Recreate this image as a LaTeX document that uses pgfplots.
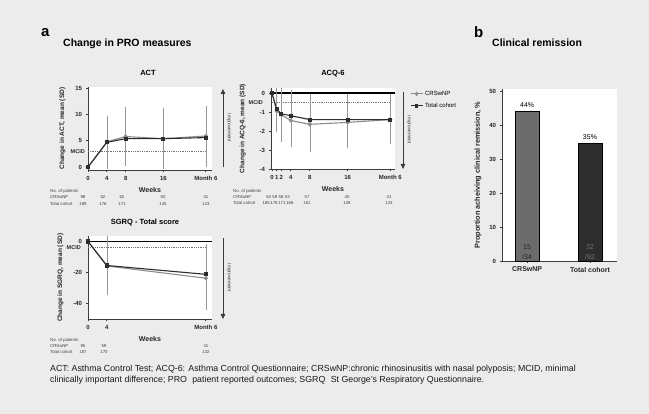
\documentclass[border=0pt]{standalone}
\usepackage{pgfplots}
\pgfplotsset{compat=1.18}
\usepackage{fontspec}
\setmainfont{Liberation Sans}
\setsansfont{Liberation Sans}
\usetikzlibrary{arrows.meta}
\definecolor{bg}{RGB}{236,236,236}
\definecolor{crs}{RGB}{140,140,140}
\definecolor{tot}{RGB}{45,45,45}
\definecolor{errc}{RGB}{150,150,150}
\definecolor{axc}{RGB}{60,60,60}
\definecolor{barA}{RGB}{108,108,108}
\definecolor{barB}{RGB}{45,45,45}
\newcommand{\fs}[1]{\fontsize{#1}{#1}\selectfont}
\pgfplotsset{
  gp/.style={
    scale only axis, anchor=south west, clip=false,
    axis lines*=left,
    axis line style={line width=0.9pt, axc},
    tick align=outside, major tick length=2.5pt,
    tick style={line width=0.8pt, axc},
    axis background/.style={fill=white},
    /pgf/number format/assume math mode=true,
    ticklabel style={font=\fs{6}\bfseries, text=black!85},
    xlabel style={font=\fs{7}\bfseries, text=black!85},
    ylabel style={font=\fs{6.5}\bfseries, text=black!85},
    ylabel shift=3pt,
  },
  crsline/.style={crs, line width=1.1pt, mark=*, mark size=1.5pt, mark options={fill=crs, draw=crs, solid},
    error bars/.cd, y dir=both, y explicit,
    error bar style={line width=0.5pt, errc},
    error mark options={line width=0.5pt, errc, mark size=2pt}},
  totline/.style={tot, line width=1.1pt, mark=square*, mark size=1.5pt, mark options={fill=tot, draw=tot, solid},
    error bars/.cd, y dir=both, y explicit,
    error bar style={line width=0.5pt, errc},
    error mark options={line width=0.5pt, errc, mark size=2pt}},
  mcid/.style={densely dotted, line width=0.8pt, black!55, forget plot},
  zline/.style={black, line width=1.3pt, forget plot},
}
\begin{document}
\begin{tikzpicture}[x=1pt,y=1pt]
\fill[bg] (0,0) rectangle (649,-414);
\useasboundingbox (0,0) rectangle (649,-414);

% headings
\node[anchor=base west, font=\fs{15}\bfseries, inner sep=0pt] at (41,-37) {a};
\node[anchor=base west, font=\fs{10.5}\bfseries, inner sep=0pt] at (63,-47) {Change in PRO measures};
\node[anchor=base west, font=\fs{15}\bfseries, inner sep=0pt] at (474,-38) {b};
\node[anchor=base west, font=\fs{10.5}\bfseries, inner sep=0pt] at (492,-47) {Clinical remission};
\node[anchor=base, font=\fs{7.5}\bfseries, inner sep=0pt] at (148,-76) {ACT};
\node[anchor=base, font=\fs{7.5}\bfseries, inner sep=0pt] at (333,-76) {ACQ-6};
\node[anchor=base, font=\fs{7.5}\bfseries, inner sep=0pt] at (145,-225) {SGRQ - Total score};

% ACT
\begin{axis}[gp, at={(88pt,-170pt)}, width=124pt, height=83pt,
  xmin=0, xmax=26.3, ymin=-0.55, ymax=15.2,
  xtick={0,4,8,16,25}, xticklabels={0,4,8,16,Month 6},
  ytick={0,5,10,15},
  xlabel={Weeks}, ylabel={Change in ACT, mean (SD)}]
\addplot[mcid] coordinates {(0,3) (25,3)};
\addplot[crsline] coordinates {(0,0) (4,4.8) += (0,4.6) -= (0,4.5) (8,5.8) += (0,5.2) -= (0,5.2) (16,5.4) += (0,5.5) -= (0,5.4) (25,5.9) += (0,5.4) -= (0,5.5)};
\addplot[totline] coordinates {(0,0) (4,4.7) += (0,4.7) -= (0,4.7) (8,5.4) += (0,5.3) -= (0,4.1) (16,5.4) += (0,5.3) -= (0,5.3) (25,5.6) += (0,5.3) -= (0,4.6)};
\node[anchor=east, font=\fs{5.5}\bfseries, inner sep=0pt, text=black!85] at (axis cs:0,3) [xshift=-3pt] {MCID};
\end{axis}

% ACQ-6
\begin{axis}[gp, at={(271pt,-169pt)}, width=124pt, height=81pt,
  xmin=-0.2, xmax=26.0, ymin=-4, ymax=0.26,
  xtick={0,1,2,4,8,16,25}, xticklabels={0,1,2,4,8,16,Month 6},
  ytick={0,-1,-2,-3,-4},
  xlabel={Weeks}, ylabel={Change in ACQ-6, mean (SD)}, ylabel shift=7pt,
  legend style={at={(rel axis cs:1.12,0.99)}, anchor=north west, draw=none, fill=none,
    font=\fs{6}, row sep=2pt, inner sep=0pt},
  legend cell align=left,
  legend image post style={xscale=0.7}]
\addplot[zline] coordinates {(-0.2,0) (26,0)};
\addplot[mcid] coordinates {(0,-0.5) (25,-0.5)};
\addplot[crsline] coordinates {(0,0) (1,-0.95) += (0,1.05) -= (0,1.0) (2,-1.15) += (0,1.25) -= (0,1.35) (4,-1.45) += (0,1.4) -= (0,1.3) (8,-1.65) += (0,1.5) -= (0,1.35) (16,-1.55) += (0,1.4) -= (0,1.25) (25,-1.4) += (0,1.25) -= (0,1.2)};
\addlegendentry{CRSwNP}
\addplot[totline] coordinates {(0,0) (1,-0.85) += (0,1.0) -= (0,1.05) (2,-1.1) += (0,1.25) -= (0,1.3) (4,-1.2) += (0,1.25) -= (0,1.3) (8,-1.4) += (0,1.25) -= (0,1.3) (16,-1.4) += (0,1.25) -= (0,1.3) (25,-1.4) += (0,1.25) -= (0,1.2)};
\addlegendentry{Total cohort}
\node[anchor=east, font=\fs{5.5}\bfseries, inner sep=0pt, text=black!85] at (axis cs:-0.2,-0.5) [xshift=-8pt] {MCID};
\end{axis}

% SGRQ
\begin{axis}[gp, at={(88pt,-319pt)}, width=124pt, height=82.5pt,
  xmin=0, xmax=26.3, ymin=-50, ymax=3.2,
  xtick={0,4,25}, xticklabels={0,4,Month 6},
  ytick={0,-20,-40},
  xlabel={Weeks}, ylabel={Change in SGRQ, mean (SD)}]
\addplot[zline] coordinates {(0,0) (26.3,0)};
\addplot[mcid] coordinates {(0,-4) (25,-4)};
\addplot[crsline] coordinates {(0,0) (4,-15.8) += (0,17.8) -= (0,17.7) (25,-23.7) += (0,19.5) -= (0,19.3)};
\addplot[totline] coordinates {(0,0) (4,-15.5) += (0,17.3) -= (0,17.8) (25,-21.2) += (0,18.0) -= (0,19.8)};
\node[anchor=east, font=\fs{5.5}\bfseries, inner sep=0pt, text=black!85] at (axis cs:0,-4) [xshift=-7pt] {MCID};
\end{axis}

% Panel b
\begin{axis}[gp, at={(502pt,-261pt)}, width=115pt, height=171.7pt,
  xmin=-0.4, xmax=1.43, ymin=0, ymax=50.5,
  xtick={0,1}, xticklabels={CRSwNP,Total cohort},
  ytick={0,10,20,30,40,50},
  xticklabel style={font=\fs{7}\bfseries},
  ylabel={Proportion acheiving clinical remission, \%},
  ylabel style={font=\fs{7.3}\bfseries}, ylabel shift=1pt]
\addplot[ybar, bar shift=0pt, bar width=24pt, fill=barA, draw=black, line width=0.6pt] coordinates {(0,44)};
\addplot[ybar, bar shift=0pt, bar width=24pt, fill=barB, draw=black, line width=0.6pt] coordinates {(1,34.7)};
\node[anchor=south, font=\fs{7}] at (axis cs:0,44) {44\%};
\node[anchor=south, font=\fs{7}] at (axis cs:1,34.7) {35\%};
\node[anchor=south, font=\fontsize{7}{10}\selectfont, align=center, text=black!85, inner sep=1pt] at (axis cs:0,0) {15\\/34};
\node[anchor=south, font=\fontsize{7}{10}\selectfont, align=center, text=black!55, inner sep=1pt] at (axis cs:1,0) {32\\/92};
\end{axis}

% improvement arrows
\draw[line width=0.8pt, axc, -{Triangle[length=5pt,width=4.5pt]}] (223,-167) -- (223,-89);
\node[rotate=-90, font=\fs{4.8}, text=black!80] at (229,-128) {Improvement};
\draw[line width=0.8pt, axc, -{Triangle[length=5pt,width=4.5pt]}] (403,-92) -- (403,-169);
\node[rotate=-90, font=\fs{4.8}, text=black!80] at (409,-130) {Improvement};
\draw[line width=0.8pt, axc, -{Triangle[length=5pt,width=4.5pt]}] (223,-238) -- (223,-319);
\node[rotate=-90, font=\fs{4.8}, text=black!80] at (229,-278) {Improvement};

% patient tables
\begin{scope}[every node/.style={font=\fs{4.3}, text=black!75, inner sep=0pt}]
\node[anchor=west] at (50,-191) {No. of patients};
\node[anchor=west] at (50,-197) {CRSwNP};
\node[anchor=west] at (50,-204) {Total cohort};
\node at (83,-197) {98}; \node at (103,-197) {62}; \node at (122,-197) {62}; \node at (163,-197) {50}; \node at (206,-197) {41};
\node at (83,-204) {189}; \node at (103,-204) {176}; \node at (122,-204) {171}; \node at (163,-204) {145}; \node at (206,-204) {123};
\node[anchor=west] at (233,-191) {No. of patients};
\node[anchor=west] at (233,-197) {CRSwNP};
\node[anchor=west] at (233,-203) {Total cohort};
\node at (278,-197) {63\,\,59\,\,58\,\,53}; \node at (307,-197) {57}; \node at (347,-197) {45}; \node at (389,-197) {41};
\node at (278,-203) {185\,178\,171\,168}; \node at (307,-203) {161}; \node at (347,-203) {128}; \node at (389,-203) {123};
\node[anchor=west] at (50,-340) {No. of patients};
\node[anchor=west] at (50,-346) {CRSwNP};
\node[anchor=west] at (50,-352) {Total cohort};
\node at (83,-346) {95}; \node at (104,-346) {59}; \node at (206,-346) {41};
\node at (83,-352) {187}; \node at (104,-352) {170}; \node at (206,-352) {132};
\end{scope}

% footnote
\node[anchor=base west, font=\fs{8.8}, inner sep=0pt, text=black!90] at (50,-372) {ACT: Asthma Control Test; ACQ-6: Asthma Control Questionnaire; CRSwNP:chronic rhinosinusitis with nasal polyposis; MCID, minimal};
\node[anchor=base west, font=\fs{8.8}, inner sep=0pt, text=black!90] at (50,-383) {clinically important difference; PRO\,\, patient reported outcomes; SGRQ\,\, St George's Respiratory Questionnaire.};
\end{tikzpicture}
\end{document}
